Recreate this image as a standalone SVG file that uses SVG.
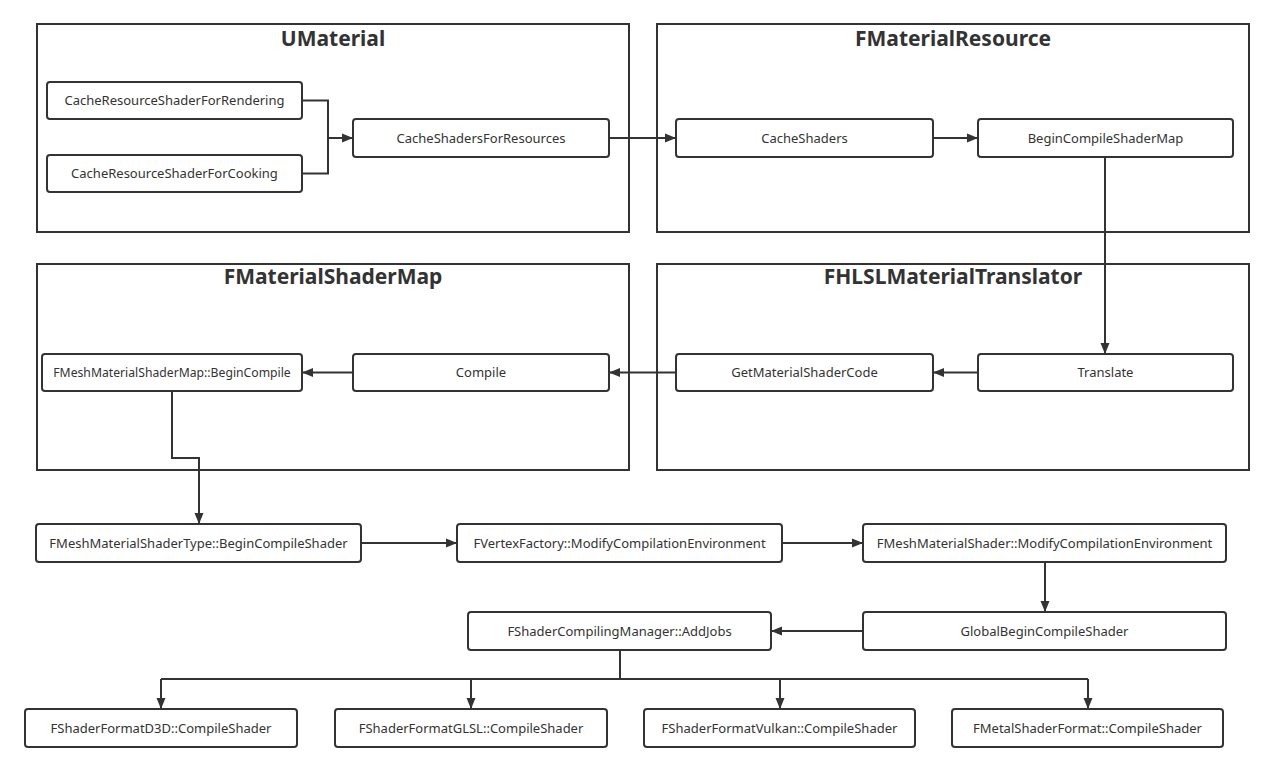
<svg xmlns="http://www.w3.org/2000/svg" width="1273" height="772" viewBox="0 0 1273 772">
<style>
.frame{fill:none;stroke:#333;stroke-width:2}
.node{fill:#fff;stroke:#333;stroke-width:2}
.title{font-family:"Noto Sans","Open Sans",sans-serif;font-weight:bold;font-size:21px;fill:#333;text-anchor:middle}
.lbl{font-family:"Noto Sans","Open Sans",sans-serif;font-size:13px;fill:#333;text-anchor:middle}
.c{fill:none;stroke:#333;stroke-width:2}
</style>
<defs>
<marker id="ah" markerUnits="userSpaceOnUse" markerWidth="12" markerHeight="10" refX="11" refY="5" orient="auto">
<path d="M0,0.5 L11,5 L0,9.5 z" fill="#333"/>
</marker>
</defs>
<rect width="1273" height="772" fill="#fff"/>
<g id="frame-umaterial"><rect class="frame" x="37" y="24" width="592" height="208"/><text class="title" x="333" y="46">UMaterial</text></g>
<g id="frame-fmaterialresource"><rect class="frame" x="657" y="24" width="592" height="208"/><text class="title" x="953" y="46">FMaterialResource</text></g>
<g id="frame-fmaterialshadermap"><rect class="frame" x="37" y="264" width="592" height="206"/><text class="title" x="333" y="284">FMaterialShaderMap</text></g>
<g id="frame-fhlsl"><rect class="frame" x="657" y="264" width="592" height="206"/><text class="title" x="953" y="284">FHLSLMaterialTranslator</text></g>

<g id="n-render"><rect class="node" x="47" y="82" width="255" height="37" rx="3"/><text class="lbl" x="174.5" y="105">CacheResourceShaderForRendering</text></g>
<g id="n-cook"><rect class="node" x="47" y="155" width="255" height="37" rx="3"/><text class="lbl" x="174.5" y="178">CacheResourceShaderForCooking</text></g>
<g id="n-csfr"><rect class="node" x="353" y="119" width="256" height="38" rx="3"/><text class="lbl" x="481" y="142.5">CacheShadersForResources</text></g>
<g id="n-cacheshaders"><rect class="node" x="676" y="119" width="257" height="38" rx="3"/><text class="lbl" x="804.5" y="142.5">CacheShaders</text></g>
<g id="n-bcsm"><rect class="node" x="978" y="119" width="255" height="38" rx="3"/><text class="lbl" x="1105.5" y="142.5">BeginCompileShaderMap</text></g>

<g id="n-fmsm-bc"><rect class="node" x="42" y="354" width="260" height="37" rx="3"/><text class="lbl" x="172" y="377" style="font-size:12.2px">FMeshMaterialShaderMap::BeginCompile</text></g>
<g id="n-compile"><rect class="node" x="353" y="354" width="256" height="37" rx="3"/><text class="lbl" x="481" y="377">Compile</text></g>
<g id="n-gmsc"><rect class="node" x="676" y="354" width="257" height="37" rx="3"/><text class="lbl" x="804.5" y="377">GetMaterialShaderCode</text></g>
<g id="n-translate"><rect class="node" x="978" y="354" width="255" height="37" rx="3"/><text class="lbl" x="1105.5" y="377">Translate</text></g>

<g id="n-fmst"><rect class="node" x="36" y="524" width="325" height="38" rx="3"/><text class="lbl" x="198.5" y="547.5">FMeshMaterialShaderType::BeginCompileShader</text></g>
<g id="n-fvf"><rect class="node" x="457" y="524" width="325" height="38" rx="3"/><text class="lbl" x="619.5" y="547.5">FVertexFactory::ModifyCompilationEnvironment</text></g>
<g id="n-fmms"><rect class="node" x="863" y="524" width="363" height="38" rx="3"/><text class="lbl" x="1044.5" y="547.5">FMeshMaterialShader::ModifyCompilationEnvironment</text></g>
<g id="n-addjobs"><rect class="node" x="468" y="612" width="303" height="38" rx="3"/><text class="lbl" x="619.5" y="635.5">FShaderCompilingManager::AddJobs</text></g>
<g id="n-gbcs"><rect class="node" x="863" y="612" width="363" height="38" rx="3"/><text class="lbl" x="1044.5" y="635.5">GlobalBeginCompileShader</text></g>

<g id="n-d3d"><rect class="node" x="25" y="709" width="272" height="38" rx="3"/><text class="lbl" x="161" y="732.5">FShaderFormatD3D::CompileShader</text></g>
<g id="n-glsl"><rect class="node" x="335" y="709" width="272" height="38" rx="3"/><text class="lbl" x="471" y="732.5">FShaderFormatGLSL::CompileShader</text></g>
<g id="n-vulkan"><rect class="node" x="644" y="709" width="271" height="38" rx="3"/><text class="lbl" x="779.5" y="732.5">FShaderFormatVulkan::CompileShader</text></g>
<g id="n-metal"><rect class="node" x="952" y="709" width="271" height="38" rx="3"/><text class="lbl" x="1087.5" y="732.5">FMetalShaderFormat::CompileShader</text></g>

<g id="connectors">
<path class="c" d="M302,100.5 H328 V138 H353" marker-end="url(#ah)"/>
<path class="c" d="M302,173.5 H328 V138"/>
<path class="c" d="M609,138 H676" marker-end="url(#ah)"/>
<path class="c" d="M933,138 H978" marker-end="url(#ah)"/>
<path class="c" d="M1105,157 V354" marker-end="url(#ah)"/>
<path class="c" d="M978,372.5 H933" marker-end="url(#ah)"/>
<path class="c" d="M676,372.5 H609" marker-end="url(#ah)"/>
<path class="c" d="M353,372.5 H302" marker-end="url(#ah)"/>
<path class="c" d="M172,391 V458 H199 V524" marker-end="url(#ah)"/>
<path class="c" d="M361,543 H457" marker-end="url(#ah)"/>
<path class="c" d="M782,543 H863" marker-end="url(#ah)"/>
<path class="c" d="M1045,562 V612" marker-end="url(#ah)"/>
<path class="c" d="M863,631 H771" marker-end="url(#ah)"/>
<path class="c" d="M620,650 V679"/>
<path class="c" d="M161,679 H1088"/>
<path class="c" d="M161,679 V709" marker-end="url(#ah)"/>
<path class="c" d="M471,679 V709" marker-end="url(#ah)"/>
<path class="c" d="M780,679 V709" marker-end="url(#ah)"/>
<path class="c" d="M1088,679 V709" marker-end="url(#ah)"/>
</g>
</svg>
